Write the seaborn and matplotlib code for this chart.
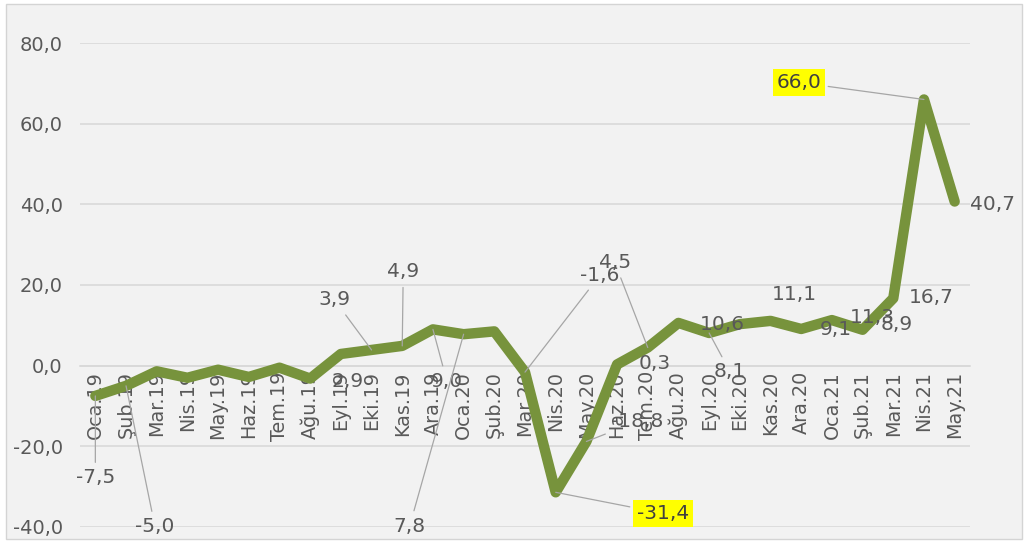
import numpy as np
import pandas as pd
import matplotlib.pyplot as plt
import matplotlib.ticker as mticker
from matplotlib.patches import Rectangle
import seaborn as sns

months = ["Oca.19", "Şub.19", "Mar.19", "Nis.19", "May.19", "Haz.19", "Tem.19", "Ağu.19",
          "Eyl.19", "Eki.19", "Kas.19", "Ara.19", "Oca.20", "Şub.20", "Mar.20", "Nis.20",
          "May.20", "Haz.20", "Tem.20", "Ağu.20", "Eyl.20", "Eki.20", "Kas.20", "Ara.20",
          "Oca.21", "Şub.21", "Mar.21", "Nis.21", "May.21"]
values = [-7.5, -5.0, -1.4, -3.0, -1.0, -2.8, -0.5, -3.2,
          2.9, 3.9, 4.9, 9.0, 7.8, 8.5, -1.6, -31.4,
          -18.8, 0.3, 4.5, 10.6, 8.1, 10.3, 11.1, 9.1,
          11.3, 8.9, 16.7, 66.0, 40.7]

# which points carry a data label, and where the label sits (pixel offset from point)
labelled = [True, True, False, False, False, False, False, False,
            True, True, True, True, True, False, True, True,
            True, True, True, True, True, False, True, True,
            True, True, True, True, True]
label_offset = {0: (0, -82), 1: (29, -141), 8: (7, -28), 9: (-37, 50), 10: (1, 74),
                11: (14, -52), 12: (-54, -192), 14: (75, 97), 15: (107, -21),
                16: (51, 20), 17: (38, 1), 18: (-33, 85), 19: (44, -2), 20: (21, -39),
                22: (24, 26), 23: (35, -1), 24: (40, 3), 25: (34, 5), 26: (38, 1),
                27: (-125, 17), 28: (38, -3)}
leaders = [0, 1, 9, 10, 11, 12, 14, 15, 16, 18, 20, 27]
highlight = [15, 27]

df = pd.DataFrame({"idx": np.arange(len(months)), "value": values})

sns.set_theme(style="white")
plt.rcParams["font.family"] = ["DejaVu Sans"]
txt = "#595959"
grid = "#d9d9d9"

fig = plt.figure(figsize=(10.29, 5.42), dpi=100, facecolor="white")
fig.patches.append(Rectangle((6 / 1029, 3 / 542), 1016 / 1029, 535 / 542,
                             transform=fig.transFigure, facecolor="#f2f2f2",
                             edgecolor="#d4d4d4", lw=1, zorder=-5))
ax = fig.add_axes([80 / 1029, 15 / 542, 890 / 1029, 484 / 542])
ax.set_facecolor("none")

sns.lineplot(data=df, x="idx", y="value", ax=ax, color="#77933c", lw=7.5,
             solid_joinstyle="round", solid_capstyle="round", zorder=3)

ax.set_xlim(-0.5, len(months) - 0.5)
ax.set_ylim(-40, 80)
ax.set_yticks(np.arange(-40, 81, 20))
ax.yaxis.set_major_formatter(mticker.FuncFormatter(lambda v, p: f"{v:.1f}".replace(".", ",")))
ax.grid(axis="y", color=grid, lw=1.2)
ax.set_axisbelow(True)

for s in ["top", "right", "left"]:
    ax.spines[s].set_visible(False)
ax.spines["bottom"].set_position(("data", 0))
ax.spines["bottom"].set_color(grid)
ax.spines["bottom"].set_linewidth(1.2)

ax.set_xticks(np.arange(len(months)))
ax.set_xticklabels(months, rotation=90, fontsize=13.8, color=txt)
ax.set_xticks(np.arange(-0.5, len(months)), minor=True)
ax.tick_params(axis="x", which="major", length=0, pad=4)
ax.tick_params(axis="x", which="minor", length=7, color=grid, width=1.2, direction="out")
ax.tick_params(axis="y", length=0, pad=12.5, labelsize=14, labelcolor=txt)
ax.set_xlabel("")
ax.set_ylabel("")

for i, v in enumerate(values):
    if not labelled[i]:
        continue
    s = f"{v:.1f}".replace(".", ",")
    box = dict(boxstyle="square,pad=0.2", fc="#ffff00", ec="none") if i in highlight else None
    arrow = dict(arrowstyle="-", color="#a6a6a6", lw=0.9, shrinkA=2, shrinkB=0) if i in leaders else None
    ax.annotate(s, (i, v), xytext=label_offset[i], textcoords="offset pixels",
                ha="center", va="center", fontsize=14.5, color=txt if i not in highlight else "#404040",
                bbox=box, arrowprops=arrow, zorder=4)

fig.savefig("out.png", dpi=100, facecolor=fig.get_facecolor())
